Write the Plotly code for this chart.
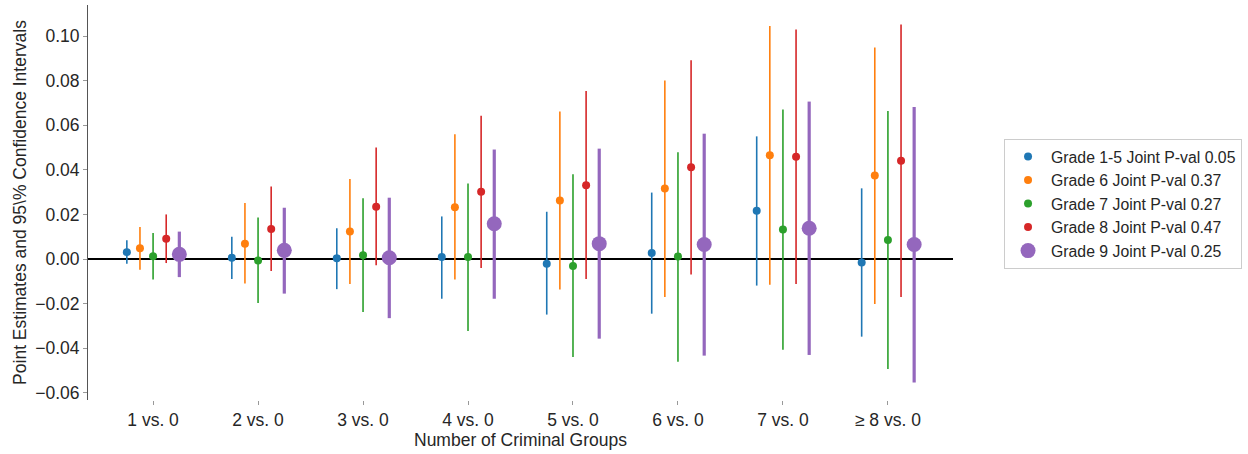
import plotly.graph_objects as go

categories = ["1 vs. 0", "2 vs. 0", "3 vs. 0", "4 vs. 0", "5 vs. 0", "6 vs. 0", "7 vs. 0", "\u2265 8 vs. 0"]
series_names = ["Grade 1-5 Joint P-val 0.05", "Grade 6 Joint P-val 0.37", "Grade 7 Joint P-val 0.27",
                "Grade 8 Joint P-val 0.47", "Grade 9 Joint P-val 0.25"]
colors = ["#1f77b4", "#ff7f0e", "#2ca02c", "#d62728", "#9467bd"]

g15_est = [0.0031, 0.0006, 0.0003, 0.0009, -0.0021, 0.0027, 0.0217, -0.0016]
g15_lo = [-0.0021, -0.0090, -0.0135, -0.0178, -0.0249, -0.0245, -0.0119, -0.0348]
g15_hi = [0.0084, 0.0100, 0.0138, 0.0191, 0.0212, 0.0298, 0.0550, 0.0317]

g6_est = [0.0048, 0.0069, 0.0124, 0.0232, 0.0263, 0.0316, 0.0465, 0.0374]
g6_lo = [-0.0048, -0.0110, -0.0112, -0.0092, -0.0137, -0.0170, -0.0115, -0.0202]
g6_hi = [0.0144, 0.0251, 0.0359, 0.0559, 0.0662, 0.0801, 0.1045, 0.0948]

g7_est = [0.0012, -0.0006, 0.0017, 0.0009, -0.0031, 0.0011, 0.0132, 0.0085]
g7_lo = [-0.0092, -0.0197, -0.0238, -0.0323, -0.0439, -0.0460, -0.0407, -0.0493]
g7_hi = [0.0117, 0.0186, 0.0272, 0.0339, 0.0380, 0.0479, 0.0670, 0.0664]

g8_est = [0.0091, 0.0135, 0.0235, 0.0302, 0.0331, 0.0411, 0.0459, 0.0441]
g8_lo = [-0.0018, -0.0054, -0.0028, -0.0040, -0.0090, -0.0069, -0.0112, -0.0170]
g8_hi = [0.0200, 0.0325, 0.0500, 0.0643, 0.0753, 0.0891, 0.1029, 0.1052]

g9_est = [0.0021, 0.0039, 0.0006, 0.0158, 0.0069, 0.0065, 0.0138, 0.0065]
g9_lo = [-0.0081, -0.0155, -0.0265, -0.0178, -0.0357, -0.0433, -0.0430, -0.0553]
g9_hi = [0.0123, 0.0230, 0.0275, 0.0491, 0.0495, 0.0562, 0.0706, 0.0682]

estimates = [g15_est, g6_est, g7_est, g8_est, g9_est]
lows = [g15_lo, g6_lo, g7_lo, g8_lo, g9_lo]
highs = [g15_hi, g6_hi, g7_hi, g8_hi, g9_hi]

fig = go.Figure()
n = len(series_names)
for k in range(n):
    big = (k == n - 1)
    xs = [i + (k - 2) * 0.125 for i in range(len(categories))]
    est = estimates[k]
    fig.add_trace(go.Scatter(
        x=xs, y=est, mode="markers", name=series_names[k],
        marker=dict(color=colors[k], size=15 if big else 8, line=dict(width=0)),
        error_y=dict(type="data", symmetric=False,
                     array=[h - e for h, e in zip(highs[k], est)],
                     arrayminus=[e - l for e, l in zip(est, lows[k])],
                     color=colors[k], thickness=3.2 if big else 1.6, width=0),
    ))

fig.add_shape(type="line", xref="paper", x0=0, x1=1, yref="y", y0=0, y1=0,
              line=dict(color="black", width=2), layer="below")

fig.update_layout(
    width=1248, height=454,
    margin=dict(l=88, r=295, t=5, b=54),
    plot_bgcolor="white", paper_bgcolor="white",
    font=dict(family="Liberation Sans, Arial, sans-serif", color="#262626", size=17.5),
    xaxis=dict(range=[-0.62, 7.62], tickmode="array", tickvals=list(range(len(categories))),
               ticktext=categories, showgrid=False, zeroline=False, showline=False,
               ticks="outside", ticklen=4, tickcolor="#999999",
               title=dict(text="Number of Criminal Groups", font=dict(size=17.5), standoff=4),
               tickfont=dict(size=17.5)),
    yaxis=dict(range=[-0.0632, 0.1139], tickvals=[-0.06, -0.04, -0.02, 0, 0.02, 0.04, 0.06, 0.08, 0.10],
               tickformat=".2f", showgrid=False, zeroline=False, showline=True,
               linecolor="#555555", linewidth=1, ticks="outside", ticklen=4, tickcolor="#999999",
               title=dict(text="Point Estimates and 95\\% Confidence Intervals", font=dict(size=17.5), standoff=4),
               tickfont=dict(size=17.5)),
    legend=dict(x=1.059, y=0.497, xanchor="left", yanchor="middle",
                bordercolor="#cccccc", borderwidth=1, font=dict(size=15.8),
                bgcolor="white", tracegroupgap=0, itemwidth=36),
    showlegend=True,
)

fig.write_html("out.html")
